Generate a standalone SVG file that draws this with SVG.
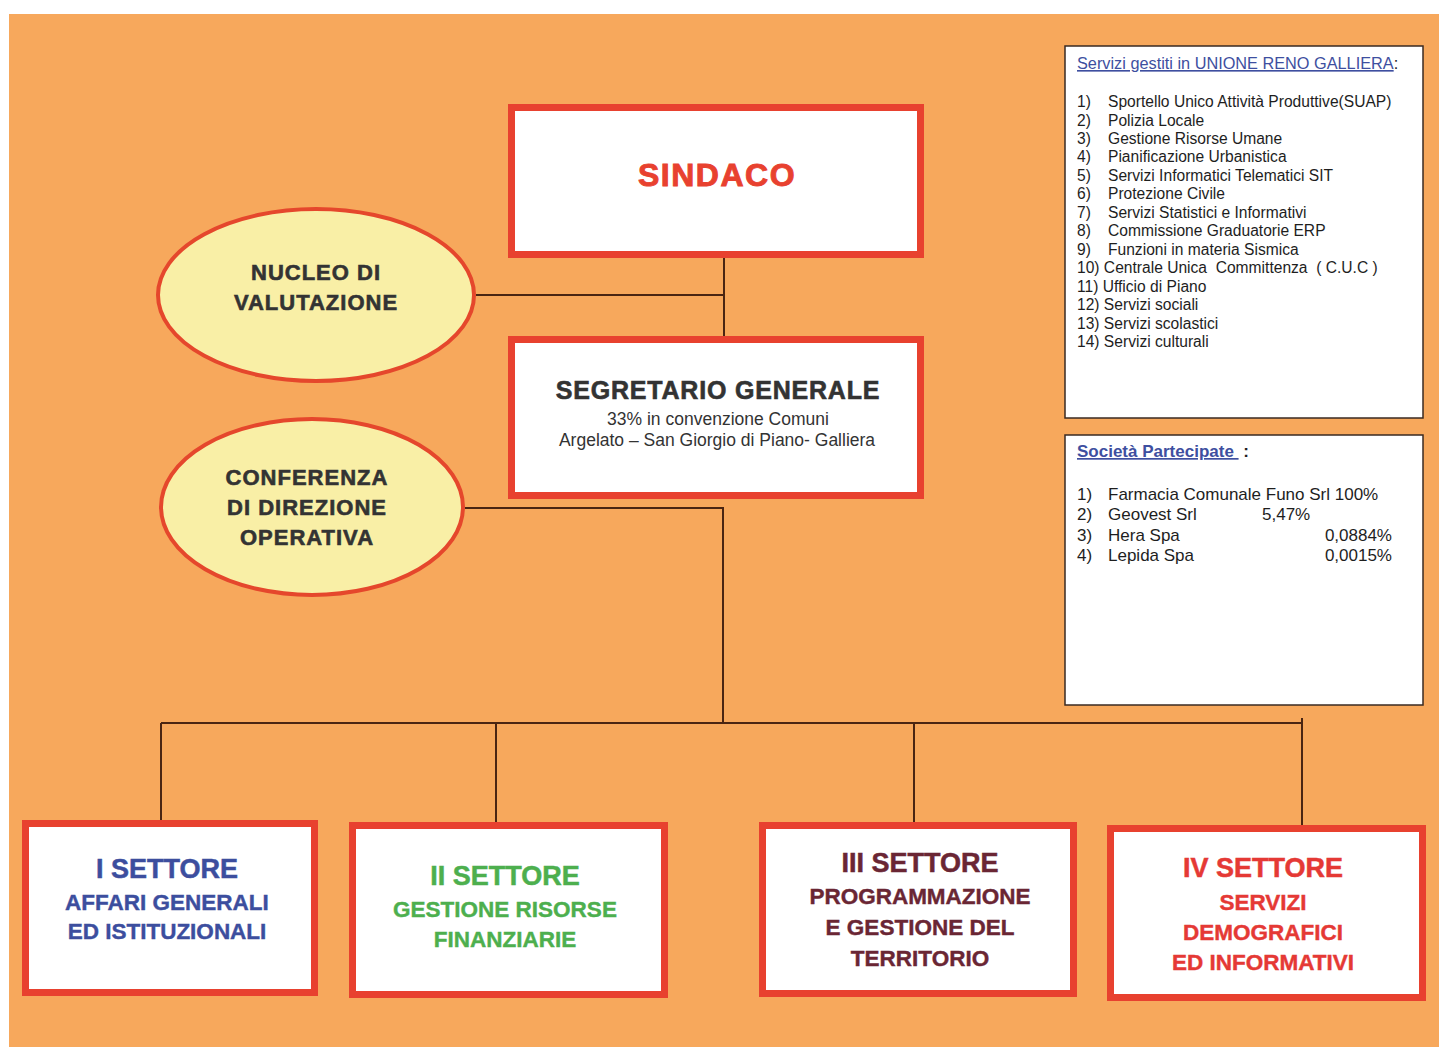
<svg xmlns="http://www.w3.org/2000/svg" width="1439" height="1047" viewBox="0 0 1439 1047">
<style>
.bg{fill:#F7A85C}
.box{fill:#FFFFFF;stroke:#E8412F;stroke-width:7}
.ell{fill:#F9EFA6;stroke:#E5472C;stroke-width:4}
.info{fill:#FFFFFF;stroke:#3A2A22;stroke-width:1.5}
.conn{fill:none;stroke:#4A2512;stroke-width:2}
.heavy{font-family:"Liberation Sans",Arial,sans-serif;font-weight:bold;text-anchor:middle}
.ell-t{font-size:22px;fill:#333333;stroke:#333333;stroke-width:0.6;letter-spacing:1px}
.sec{font-size:27px;stroke-width:0.5}
.sub{font-size:22.5px;stroke-width:0.4}
.list{font-family:"Liberation Sans",Arial,sans-serif;font-size:15.6px;fill:#1E1E1E}
.list2{font-family:"Liberation Sans",Arial,sans-serif;font-size:17px;fill:#1E1E1E}
.head{fill:#3E4FA0;text-decoration:underline}
</style>
<rect x="0" y="0" width="1439" height="1047" fill="#FFFFFF"/>
<rect class="bg" x="9" y="14" width="1430" height="1033"/>

<g id="connectors">
  <path class="conn" d="M724,258 V337"/>
  <path class="conn" d="M476,295 H724"/>
  <path class="conn" d="M465,508 H723 V723"/>
  <path class="conn" d="M161,723 H1302"/>
  <path class="conn" d="M161,723 V821"/>
  <path class="conn" d="M496,723 V823"/>
  <path class="conn" d="M914,723 V823"/>
  <path class="conn" d="M1302,718 V826"/>
</g>

<g id="sindaco">
  <rect class="box" x="511.5" y="107.5" width="409" height="147"/>
  <text class="heavy" x="717" y="186" font-size="32" fill="#E8412F" stroke="#E8412F" stroke-width="0.9" letter-spacing="1.5">SINDACO</text>
</g>

<g id="segretario">
  <rect class="box" x="511.5" y="339.5" width="409" height="156"/>
  <text class="heavy" x="718" y="399" font-size="25" fill="#333333" stroke="#333333" stroke-width="0.6" letter-spacing="0.8">SEGRETARIO GENERALE</text>
  <text x="718" y="425" font-family="'Liberation Sans',Arial,sans-serif" font-size="17.5" fill="#333333" text-anchor="middle">33% in convenzione Comuni</text>
  <text x="717" y="446" font-family="'Liberation Sans',Arial,sans-serif" font-size="17.5" fill="#333333" text-anchor="middle">Argelato – San Giorgio di Piano- Galliera</text>
</g>

<g id="nucleo">
  <ellipse class="ell" cx="316" cy="295" rx="158" ry="86"/>
  <text class="heavy ell-t" x="316" y="280">NUCLEO DI</text>
  <text class="heavy ell-t" x="316" y="310">VALUTAZIONE</text>
</g>

<g id="conferenza">
  <ellipse class="ell" cx="312" cy="507" rx="151" ry="88"/>
  <text class="heavy ell-t" x="307" y="485">CONFERENZA</text>
  <text class="heavy ell-t" x="307" y="515">DI DIREZIONE</text>
  <text class="heavy ell-t" x="307" y="545">OPERATIVA</text>
</g>

<g id="settore1" fill="#3C4E9E" stroke="#3C4E9E">
  <rect class="box" x="25.5" y="823.5" width="289" height="169"/>
  <text class="heavy sec" x="167" y="878">I SETTORE</text>
  <text class="heavy sub" x="167" y="910">AFFARI GENERALI</text>
  <text class="heavy sub" x="167" y="939">ED ISTITUZIONALI</text>
</g>

<g id="settore2" fill="#4DAF4E" stroke="#4DAF4E">
  <rect class="box" x="352.5" y="825.5" width="312" height="169"/>
  <text class="heavy sec" x="505" y="885">II SETTORE</text>
  <text class="heavy sub" x="505" y="917">GESTIONE RISORSE</text>
  <text class="heavy sub" x="505" y="947">FINANZIARIE</text>
</g>

<g id="settore3" fill="#6A2634" stroke="#6A2634">
  <rect class="box" x="762.5" y="825.5" width="311" height="168"/>
  <text class="heavy sec" x="920" y="872">III SETTORE</text>
  <text class="heavy sub" x="920" y="904">PROGRAMMAZIONE</text>
  <text class="heavy sub" x="920" y="935">E GESTIONE DEL</text>
  <text class="heavy sub" x="920" y="966">TERRITORIO</text>
</g>

<g id="settore4" fill="#E53935" stroke="#E53935">
  <rect class="box" x="1110.5" y="828.5" width="312" height="169"/>
  <text class="heavy sec" x="1263" y="877">IV SETTORE</text>
  <text class="heavy sub" x="1263" y="910">SERVIZI</text>
  <text class="heavy sub" x="1263" y="940">DEMOGRAFICI</text>
  <text class="heavy sub" x="1263" y="970">ED INFORMATIVI</text>
</g>

<g id="servizi-unione">
  <rect class="info" x="1065" y="46" width="358" height="372"/>
  <text class="list" x="1077" y="69" style="font-size:16.3px"><tspan class="head">Servizi gestiti in UNIONE RENO GALLIERA</tspan>:</text>
  <g class="list">
    <text x="1077" y="107">1)</text><text x="1108" y="107">Sportello Unico Attività Produttive(SUAP)</text>
    <text x="1077" y="125.5">2)</text><text x="1108" y="125.5">Polizia Locale</text>
    <text x="1077" y="144">3)</text><text x="1108" y="144">Gestione Risorse Umane</text>
    <text x="1077" y="162.4">4)</text><text x="1108" y="162.4">Pianificazione Urbanistica</text>
    <text x="1077" y="180.8">5)</text><text x="1108" y="180.8">Servizi Informatici Telematici SIT</text>
    <text x="1077" y="199.3">6)</text><text x="1108" y="199.3">Protezione Civile</text>
    <text x="1077" y="217.8">7)</text><text x="1108" y="217.8">Servizi Statistici e Informativi</text>
    <text x="1077" y="236.2">8)</text><text x="1108" y="236.2">Commissione Graduatorie ERP</text>
    <text x="1077" y="254.7">9)</text><text x="1108" y="254.7">Funzioni in materia Sismica</text>
    <text x="1077" y="273.1" xml:space="preserve">10) Centrale Unica  Committenza  ( C.U.C )</text>
    <text x="1077" y="291.6">11) Ufficio di Piano</text>
    <text x="1077" y="310">12) Servizi sociali</text>
    <text x="1077" y="328.5">13) Servizi scolastici</text>
    <text x="1077" y="347">14) Servizi culturali</text>
  </g>
</g>

<g id="societa-partecipate">
  <rect class="info" x="1065" y="435" width="358" height="270"/>
  <text class="list2" x="1077" y="457" font-weight="bold"><tspan class="head">Società Partecipate&#160;</tspan> :</text>
  <g class="list2">
    <text x="1077" y="500">1)</text><text x="1108" y="500">Farmacia Comunale Funo Srl 100%</text>
    <text x="1077" y="520">2)</text><text x="1108" y="520">Geovest Srl</text><text x="1262" y="520">5,47%</text>
    <text x="1077" y="541">3)</text><text x="1108" y="541">Hera Spa</text><text x="1392" y="541" text-anchor="end">0,0884%</text>
    <text x="1077" y="561">4)</text><text x="1108" y="561">Lepida Spa</text><text x="1392" y="561" text-anchor="end">0,0015%</text>
  </g>
</g>
</svg>
